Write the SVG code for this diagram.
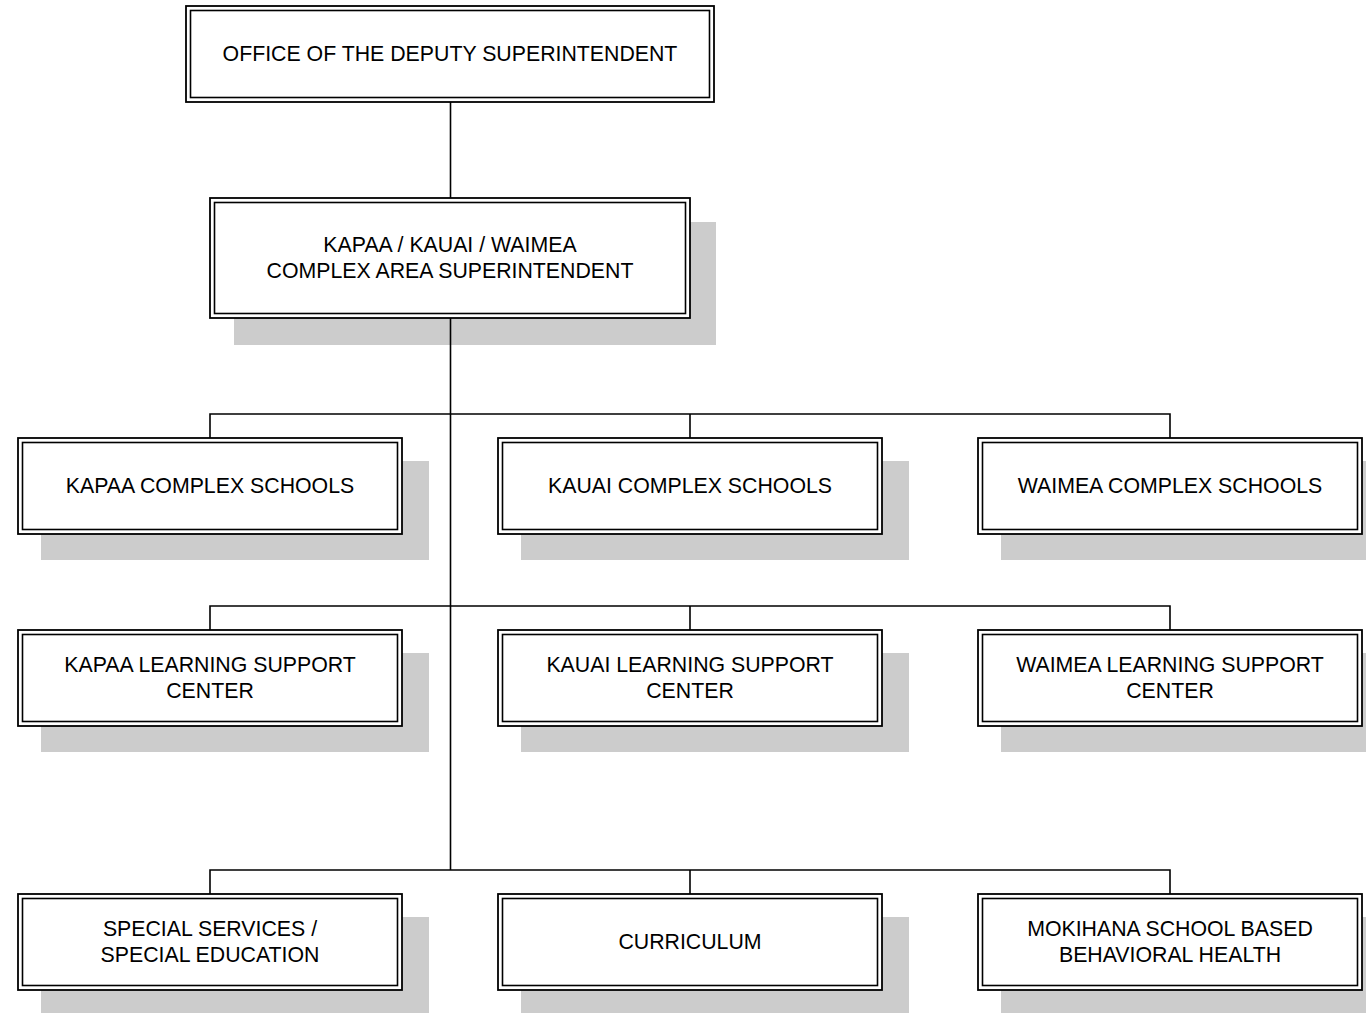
<svg xmlns="http://www.w3.org/2000/svg" width="1366" height="1013" viewBox="0 0 1366 1013">
<style>
.bg{fill:#ffffff}
.sh{fill:#cccccc;stroke:none}
.o{fill:#ffffff;stroke:#000000;stroke-width:1.8}
.i{fill:none;stroke:#000000;stroke-width:1.6}
.t{font-family:"Liberation Sans",Arial,sans-serif;font-size:21.3px;fill:#000000;text-anchor:middle}
.c{fill:none;stroke:#000000;stroke-width:1.6}
</style>
<rect class="bg" x="0" y="0" width="1366" height="1013"/>
<g id="deputy">
<rect class="o" x="186" y="6" width="528" height="96"/>
<rect class="i" x="190.5" y="10.5" width="519" height="87"/>
<text class="t" x="450" y="60.5">OFFICE OF THE DEPUTY SUPERINTENDENT</text>
</g>
<g id="area-superintendent">
<rect class="sh" x="234" y="222" width="482" height="123"/>
<rect class="o" x="210" y="198" width="480" height="120"/>
<rect class="i" x="214.5" y="202.5" width="471" height="111"/>
<text class="t" x="450" y="251.5">KAPAA / KAUAI / WAIMEA</text>
<text class="t" x="450" y="277.5">COMPLEX AREA SUPERINTENDENT</text>
</g>
<g id="kapaa-schools">
<rect class="sh" x="41" y="461" width="388" height="99"/>
<rect class="o" x="18" y="438" width="384" height="96"/>
<rect class="i" x="22.5" y="442.5" width="375" height="87"/>
<text class="t" x="210" y="492.5">KAPAA COMPLEX SCHOOLS</text>
</g>
<g id="kauai-schools">
<rect class="sh" x="521" y="461" width="388" height="99"/>
<rect class="o" x="498" y="438" width="384" height="96"/>
<rect class="i" x="502.5" y="442.5" width="375" height="87"/>
<text class="t" x="690" y="492.5">KAUAI COMPLEX SCHOOLS</text>
</g>
<g id="waimea-schools">
<rect class="sh" x="1001" y="461" width="388" height="99"/>
<rect class="o" x="978" y="438" width="384" height="96"/>
<rect class="i" x="982.5" y="442.5" width="375" height="87"/>
<text class="t" x="1170" y="492.5">WAIMEA COMPLEX SCHOOLS</text>
</g>
<g id="kapaa-lsc">
<rect class="sh" x="41" y="653" width="388" height="99"/>
<rect class="o" x="18" y="630" width="384" height="96"/>
<rect class="i" x="22.5" y="634.5" width="375" height="87"/>
<text class="t" x="210" y="671.5">KAPAA LEARNING SUPPORT</text>
<text class="t" x="210" y="697.5">CENTER</text>
</g>
<g id="kauai-lsc">
<rect class="sh" x="521" y="653" width="388" height="99"/>
<rect class="o" x="498" y="630" width="384" height="96"/>
<rect class="i" x="502.5" y="634.5" width="375" height="87"/>
<text class="t" x="690" y="671.5">KAUAI LEARNING SUPPORT</text>
<text class="t" x="690" y="697.5">CENTER</text>
</g>
<g id="waimea-lsc">
<rect class="sh" x="1001" y="653" width="388" height="99"/>
<rect class="o" x="978" y="630" width="384" height="96"/>
<rect class="i" x="982.5" y="634.5" width="375" height="87"/>
<text class="t" x="1170" y="671.5">WAIMEA LEARNING SUPPORT</text>
<text class="t" x="1170" y="697.5">CENTER</text>
</g>
<g id="special-services">
<rect class="sh" x="41" y="917" width="388" height="99"/>
<rect class="o" x="18" y="894" width="384" height="96"/>
<rect class="i" x="22.5" y="898.5" width="375" height="87"/>
<text class="t" x="210" y="935.5">SPECIAL SERVICES /</text>
<text class="t" x="210" y="961.5">SPECIAL EDUCATION</text>
</g>
<g id="curriculum">
<rect class="sh" x="521" y="917" width="388" height="99"/>
<rect class="o" x="498" y="894" width="384" height="96"/>
<rect class="i" x="502.5" y="898.5" width="375" height="87"/>
<text class="t" x="690" y="948.5">CURRICULUM</text>
</g>
<g id="mokihana">
<rect class="sh" x="1001" y="917" width="388" height="99"/>
<rect class="o" x="978" y="894" width="384" height="96"/>
<rect class="i" x="982.5" y="898.5" width="375" height="87"/>
<text class="t" x="1170" y="935.5">MOKIHANA SCHOOL BASED</text>
<text class="t" x="1170" y="961.5">BEHAVIORAL HEALTH</text>
</g>
<g id="connectors">
<path class="c" d="M450.5 102 V198"/>
<path class="c" d="M450.5 318 V870"/>
<path class="c" d="M210 438 V414 H1170 V438 M690 414 V438"/>
<path class="c" d="M210 630 V606 H1170 V630 M690 606 V630"/>
<path class="c" d="M210 894 V870 H1170 V894 M690 870 V894"/>
</g>
</svg>
